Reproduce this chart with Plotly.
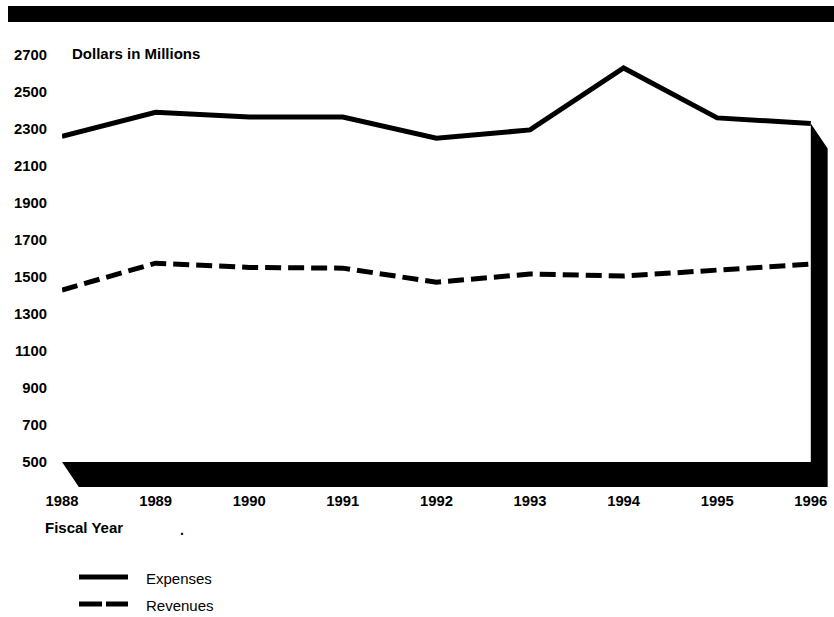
import plotly.graph_objects as go

# Fiscal-year series (dollars in millions)
years = [1988, 1989, 1990, 1991, 1992, 1993, 1994, 1995, 1996]
expenses = [2260, 2390, 2365, 2365, 2250, 2295, 2630, 2360, 2330]
revenues = [1430, 1575, 1552, 1548, 1472, 1516, 1505, 1535, 1570]
y_ticks = list(range(500, 2701, 200))

W, H = 834, 617
M = dict(l=62, r=0, t=30, b=127)
PX_PER_YEAR = 93.6
plot_w = W - M["l"] - M["r"]
plot_h = H - M["t"] - M["b"]
x_range = [years[0], years[0] + plot_w / PX_PER_YEAR]
y_range = [349, 2835]

FONT = "Liberation Sans, Arial, Helvetica, sans-serif"
INK = "black"


def px_to_paper(x, y):
    """Convert page pixel coordinates to paper coordinates."""
    return (x - M["l"]) / plot_w, (H - M["b"] - y) / plot_h


fig = go.Figure()
fig.add_trace(go.Scatter(
    x=years, y=expenses, mode="lines", name="Expenses",
    line=dict(color=INK, width=5), showlegend=False,
))
fig.add_trace(go.Scatter(
    x=years, y=revenues, mode="lines", name="Revenues",
    line=dict(color=INK, width=5, dash="16px,7px"), showlegend=False,
))

shapes = []

# Shaded floor and right-hand wall giving the chart its 3-D depth
depth_x, depth_y = 0.18, 135
base = y_ticks[0]
x0, x1 = years[0], years[-1]
top = expenses[-1]
path = (
    f"M {x0},{base} L {x1},{base} L {x1},{top} "
    f"L {x1 + depth_x},{top - depth_y} L {x1 + depth_x},{base - depth_y} "
    f"L {x0 + depth_x},{base - depth_y} Z"
)
shapes.append(dict(type="path", xref="x", yref="y", path=path,
                   fillcolor=INK, line=dict(width=0), layer="below"))

# Heavy rule across the top of the page
bx0, by0 = px_to_paper(8, 22)
bx1, by1 = px_to_paper(834, 6)
shapes.append(dict(type="rect", xref="paper", yref="paper",
                   x0=bx0, x1=bx1, y0=by0, y1=by1,
                   fillcolor=INK, line=dict(width=0)))

# Legend keys
for y_px, dash in [(577, "solid"), (604, "23px,4px")]:
    lx0, ly = px_to_paper(79, y_px)
    lx1, _ = px_to_paper(128, y_px)
    shapes.append(dict(type="line", xref="paper", yref="paper",
                       x0=lx0, x1=lx1, y0=ly, y1=ly,
                       line=dict(color=INK, width=5, dash=dash)))

annotations = []


def add_text(text, x_px, y_px, size, bold, anchor="left"):
    ax, ay = px_to_paper(x_px, y_px)
    annotations.append(dict(
        text=text, x=ax, y=ay, xref="paper", yref="paper",
        xanchor=anchor, yanchor="middle", showarrow=False,
        font=dict(family=FONT, size=size, color=INK,
                  weight="bold" if bold else "normal"),
    ))


add_text("Dollars in Millions", 70, 53, 15, True)
add_text("Fiscal Year", 43, 527, 15, True)
add_text(".", 178, 530, 14, True)
add_text("Expenses", 144, 578, 15, False)
add_text("Revenues", 144, 605, 15, False)

tick_font = dict(family=FONT, size=14.8, color=INK, weight="bold")

fig.update_layout(
    width=W, height=H,
    margin=M,
    paper_bgcolor="white", plot_bgcolor="white",
    showlegend=False,
    shapes=shapes,
    annotations=annotations,
    xaxis=dict(
        range=x_range, tickvals=years, ticktext=[str(y) for y in years],
        showgrid=False, zeroline=False, showline=False, ticks="",
        tickfont=tick_font, ticklabelstandoff=0,
    ),
    yaxis=dict(
        range=y_range, tickvals=y_ticks, ticktext=[str(v) for v in y_ticks],
        showgrid=False, zeroline=False, showline=False, ticks="",
        tickfont=tick_font, ticklabelstandoff=14,
    ),
)

fig.write_html("out.html")
